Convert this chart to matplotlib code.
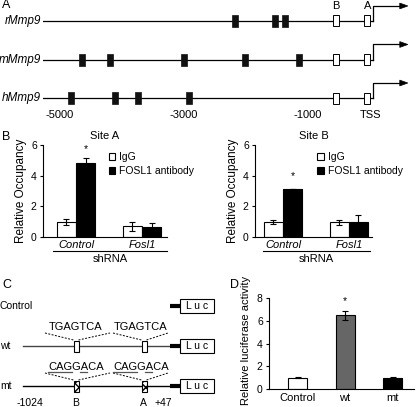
import matplotlib
matplotlib.use("Agg")
import matplotlib.pyplot as plt
from matplotlib.patches import Rectangle, Polygon

plt.rcParams['font.family'] = ['Liberation Sans', 'DejaVu Sans']
plt.rcParams['font.size'] = 7.5

W, H = 416, 407

# ---- data ----
genes = ['rMmp9', 'mMmp9', 'hMmp9']
sites_black = [[-2180, -1530, -1370],
               [-4650, -4190, -3000, -2010, -1150],
               [-4820, -4110, -3740, -2920]]
site_b, site_a = -550, -45
a_ticks = [-5000, -3000, -1000, 0]
a_ticklabels = ['-5000', '-3000', '-1000', 'TSS']

groups = ['Control', 'Fosl1']
siteA_igg = [1.0, 0.7]
siteA_igg_err = [0.2, 0.3]
siteA_fosl = [4.85, 0.65]
siteA_fosl_err = [0.3, 0.25]
siteB_igg = [1.0, 0.95]
siteB_igg_err = [0.12, 0.17]
siteB_fosl = [3.1, 1.0]
siteB_fosl_err = [0.0, 0.45]

luc_labels = ['Control', 'wt', 'mt']
luc_vals = [1.0, 6.5, 1.0]
luc_err = [0.05, 0.4, 0.07]
luc_colors = ['white', '#666666', 'black']


def rect(x0, y0, x1, y1):
    return [x0 / W, 1 - y1 / H, (x1 - x0) / W, (y1 - y0) / H]


fig = plt.figure(figsize=(W / 100, H / 100), dpi=100)

# overlay for schematic parts (pixel coordinates)
ov = fig.add_axes([0, 0, 1, 1])
ov.set_xlim(0, W)
ov.set_ylim(H, 0)
ov.axis('off')

# ---------------- panel A ----------------
axA = fig.add_axes(rect(43, 0, 410, 120))
px = 0.062  # px per bp
axA.set_xlim(-5274, 645)
axA.set_ylim(2.57, -0.545)
axA.axis('off')
bw = 6 / px
wbw = 6 / px
rh = 12 / 38.5
wrh = 11 / 38.5
for i, g in enumerate(genes):
    axA.plot([-5274, 48], [i, i], color='black', lw=0.9, zorder=1)
    for s in sites_black[i]:
        axA.add_patch(Rectangle((s - bw / 2, i - rh / 2), bw, rh, fc='#111111', ec='#111111', lw=0.5, zorder=2))
    for s in (site_b, site_a):
        axA.add_patch(Rectangle((s - wbw / 2, i - wrh / 2), wbw, wrh, fc='white', ec='black', lw=0.7, zorder=2))
    axA.plot([48, 48, 500], [i, i - 0.39, i - 0.39], color='black', lw=0.9)
    axA.add_patch(Polygon([[480, i - 0.39 - 0.075], [480, i - 0.39 + 0.075], [610, i - 0.39]],
                          closed=True, fc='black', ec='black', lw=0.5))
    axA.text(-5274 - 2 / px, i, g, ha='right', va='center', style='italic', fontsize=8.5)
for t, l in zip(a_ticks, a_ticklabels):
    axA.text(t, 2.43, l, ha='center', va='center', fontsize=8)
axA.text(site_b, -0.38, 'B', ha='center', va='center', fontsize=8)
axA.text(site_a, -0.38, 'A', ha='center', va='center', fontsize=8)
ov.text(2, 5, 'A', fontsize=9, va='center', ha='left')


# ---------------- panel B ----------------
def occupancy(pos, xlim, igg, igg_err, fosl, fosl_err, title, star_y):
    ax = fig.add_axes(rect(*pos))
    x = [0, 1]
    w = 0.29
    ax.bar([v - w / 2 for v in x], igg, w, yerr=igg_err, color='white', edgecolor='black', lw=0.8,
           error_kw=dict(ecolor='black', elinewidth=0.8, capsize=2.5, capthick=0.8), label='IgG')
    ax.bar([v + w / 2 for v in x], fosl, w, yerr=fosl_err, color='black', edgecolor='black', lw=0.8,
           error_kw=dict(ecolor='black', elinewidth=0.8, capsize=2.5, capthick=0.8), label='FOSL1 antibody')
    ax.text(x[0] + w / 2, star_y, '*', ha='center', va='center', fontsize=7.5)
    ax.set_xlim(*xlim)
    ax.set_ylim(0, 6)
    ax.set_yticks([0, 2, 4, 6])
    ax.set_xticks(x)
    ax.set_xticklabels(groups, style='italic', fontsize=8)
    ax.tick_params(axis='x', length=0, pad=2)
    ax.tick_params(axis='y', length=2.5, width=0.8, pad=2, labelsize=7.5)
    for s in ('top', 'right'):
        ax.spines[s].set_visible(False)
    for s in ('left', 'bottom'):
        ax.spines[s].set_linewidth(0.8)
    ax.set_ylabel('Relative Occupancy', fontsize=8.5, labelpad=3)
    ax.set_title(title, fontsize=8, pad=4)
    ax.legend(loc='upper left', bbox_to_anchor=(0.47, 1.0), frameon=False, handlelength=0.6,
              handleheight=0.6, handletextpad=0.4, labelspacing=0.35, borderpad=0.2, fontsize=7.5)
    return ax


occupancy((43, 145, 167, 237), (-0.5, 1.38), siteA_igg, siteA_igg_err, siteA_fosl, siteA_fosl_err,
          'Site A', 5.75)
occupancy((255, 145, 372, 237), (-0.424, 1.35), siteB_igg, siteB_igg_err, siteB_fosl, siteB_fosl_err,
          'Site B', 4.0)
ov.plot([53, 167], [251, 251], color='black', lw=0.8)
ov.plot([263, 370], [251, 251], color='black', lw=0.8)
ov.text(110, 259, 'shRNA', ha='center', va='center', fontsize=8)
ov.text(316, 259, 'shRNA', ha='center', va='center', fontsize=8)
ov.text(2, 137, 'B', fontsize=9, va='center', ha='left')

# ---------------- panel C ----------------
ov.text(2, 285, 'C', fontsize=9, va='center', ha='left')
rows = [('Control', 306, None), ('wt', 346, 'TGAGTCA'), ('mt', 386, 'CAGGACA')]
for name, y, seq in rows:
    ov.text(0, y, name, ha='left', va='center', fontsize=7.5)
    ov.add_patch(Rectangle((180, y - 7), 34, 14, fc='white', ec='black', lw=0.8))
    ov.text(197, y, 'L u c', ha='center', va='center', fontsize=7.5)
    ov.plot([170, 180], [y, y], color='black', lw=3, solid_capstyle='butt')
    if seq is None:
        continue
    ov.plot([23, 170], [y, y], color='#444444' if name == 'wt' else 'black', lw=1.0, zorder=1)
    for cx, tx, l, r in ((76, 76, 45, 110), (144, 141, 113, 168)):
        ov.plot([l, cx - 2.5], [y - 13, y - 6], color='black', lw=0.7, ls=(0, (2, 1.5)))
        ov.plot([cx + 2.5, r], [y - 6, y - 13], color='black', lw=0.7, ls=(0, (2, 1.5)))
        ov.add_patch(Rectangle((cx - 2.5, y - 5.5), 5, 11, fc='white', ec='black', lw=0.8,
                               hatch='xxxx' if name == 'mt' else None, zorder=3))
        t = ov.text(tx, y - 19, seq, ha='center', va='center', fontsize=8)
        if name == 'mt':
            fig.canvas.draw()
            r_ = fig.canvas.get_renderer()
            bb = t.get_window_extent(r_)
            inv = ov.transData.inverted()
            x0 = inv.transform((bb.x0, bb.y0))[0]
            x1 = inv.transform((bb.x1, bb.y0))[0]
            cw = (x1 - x0) / len(seq)
            for a, b in ((0, 3), (4, 5)):
                ov.plot([x0 + a * cw, x0 + b * cw - 0.5], [y - 14, y - 14], color='#555555', lw=0.9)
for x, l in ((30, '-1024'), (76, 'B'), (143, 'A'), (163, '+47')):
    ov.text(x, 403, l, ha='center', va='center', fontsize=7.5)

# ---------------- panel D ----------------
axD = fig.add_axes(rect(269, 298, 414, 389))
xd = range(len(luc_labels))
axD.bar(xd, luc_vals, 0.4, yerr=luc_err, color=luc_colors, edgecolor='black', lw=0.8,
        error_kw=dict(ecolor='black', elinewidth=0.8, capsize=2.5, capthick=0.8))
axD.text(1, 7.75, '*', ha='center', va='center', fontsize=7.5)
axD.set_xlim(-0.6, 2.45)
axD.set_ylim(0, 8)
axD.set_yticks([0, 2, 4, 6, 8])
axD.set_xticks(list(xd))
axD.set_xticklabels(luc_labels, fontsize=8)
axD.tick_params(axis='x', length=0, pad=3)
axD.tick_params(axis='y', length=2.5, width=0.8, pad=2, labelsize=7.5)
for s in ('top', 'right'):
    axD.spines[s].set_visible(False)
for s in ('left', 'bottom'):
    axD.spines[s].set_linewidth(0.8)
ov.text(246, 340, 'Relative luciferase activity', rotation=90, ha='center', va='center', fontsize=8)
ov.text(230, 285, 'D', fontsize=9, va='center', ha='left')

fig.savefig('out.png', dpi=100)
